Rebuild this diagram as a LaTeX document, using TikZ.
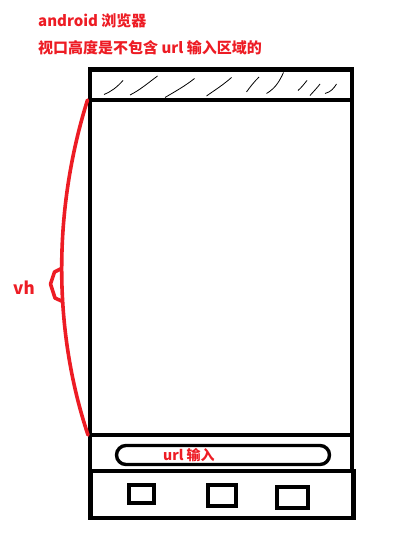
\documentclass[tikz,border=0pt]{standalone}
\usepackage{fontspec}
\setmainfont{Noto Sans CJK SC}
\begin{document}
\begin{tikzpicture}[x=1pt,y=-1pt,
  frame/.style={draw=black,line width=4.2pt},
  hatch/.style={draw=black,line width=0.8pt},
  redline/.style={draw=pred,line width=3.6pt,line cap=round,line join=round},
  redtext/.style={text=pred,font=\bfseries,inner sep=0pt},
]
\definecolor{pred}{HTML}{ED1C24}
\useasboundingbox (0,0) rectangle (412,554);
% frame
\draw[frame] (90,69.5) rectangle (352,435);
\draw[frame] (90,100) -- (352,100);
\draw[frame] (90,435) rectangle (352,471);
\draw[frame] (90.5,471) rectangle (353.5,518);
% url pill
\draw[draw=black,line width=3.4pt,rounded corners=9.5pt] (116.5,445.5) rectangle (329.5,464.5);
% buttons
\draw[frame,line width=3.8pt] (129,485) rectangle (154,503);
\draw[frame,line width=3.8pt] (208,485) rectangle (236,506);
\draw[frame,line width=3.8pt] (277,487) rectangle (308,508);
% hatch strokes
\draw[hatch] (104,94.5) .. controls (112,91) and (116,88) .. (123,80.5);
\draw[hatch] (130,95) .. controls (140,90) and (148,83) .. (157.5,76);
\draw[hatch] (165,97.5) .. controls (176,91) and (185,86) .. (194.5,78.5);
\draw[hatch] (206.5,96) .. controls (215,90) and (223,85) .. (231.5,77.5);
\draw[hatch] (246.5,92) .. controls (250,87) and (254,82) .. (259,77);
\draw[hatch] (266.5,93.5) .. controls (276,88) and (280,80) .. (283.5,72.5);
\draw[hatch] (298,90.5) .. controls (302,87) and (304,84) .. (307,80.5);
\draw[hatch] (310,95.5) .. controls (314,91) and (317,88) .. (320,84);
\draw[hatch] (325,93.5) .. controls (331,92) and (334,88) .. (336.5,84);
% red curve
\coordinate (ct) at (87.5,100);
\coordinate (cb) at (88,435);
\draw[redline] (ct) .. controls (53,210) and (53,330) .. (cb);
\draw[redline] (61.5,268.5) -- (54.5,272) -- (50.5,284) -- (55,298) -- (61.5,301);
% texts
\node[redtext,anchor=base west,font=\bfseries\fontsize{15}{18}\selectfont] (t1) at (38,27) {android 浏览器};
\node[redtext,anchor=base west,font=\bfseries\fontsize{15}{18}\selectfont] (t2) at (38,53) {视口高度是不包含 url 输入区域的};
\node[redtext,anchor=base west,font=\bfseries\fontsize{17}{20}\selectfont] (vh) at (13,294) {vh};
\node[redtext,anchor=base west,font=\bfseries\fontsize{14}{17}\selectfont] (url) at (163,460) {url 输入};
\end{tikzpicture}
\end{document}
